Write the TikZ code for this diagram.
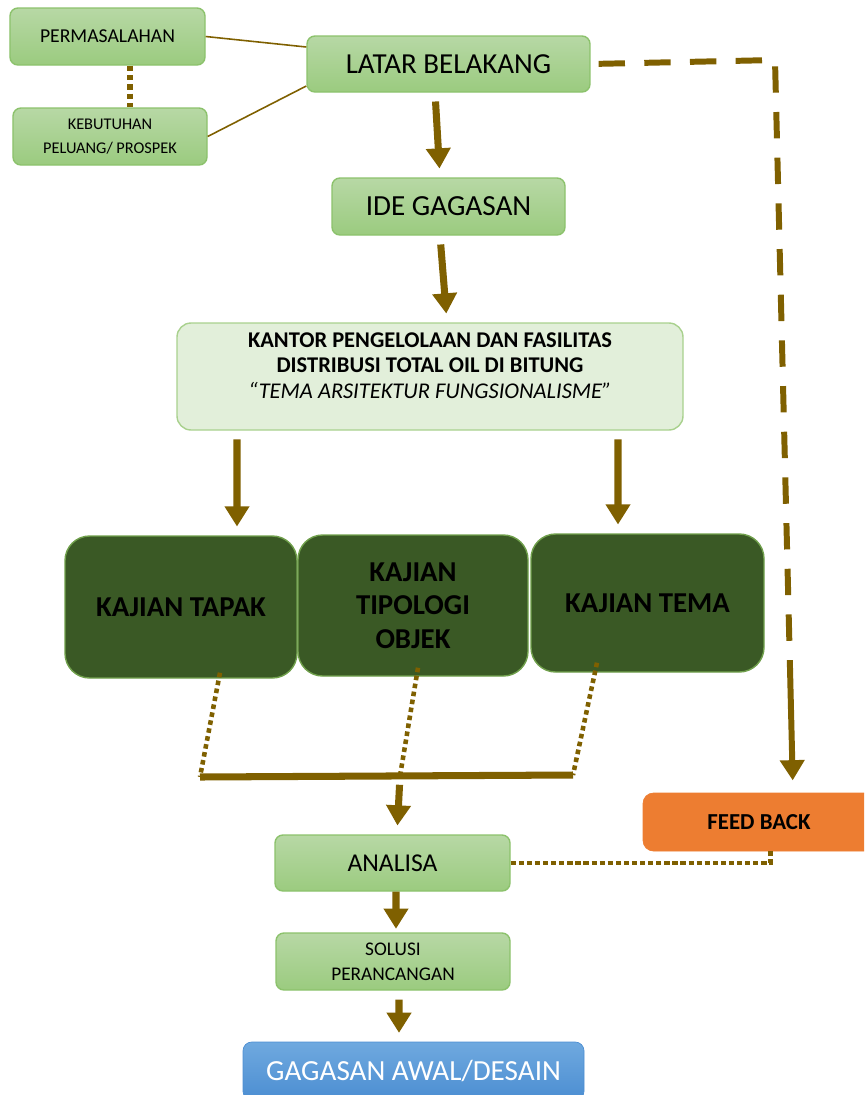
\documentclass[tikz,border=0pt]{standalone}
\usepackage{fontspec}
\setmainfont{Carlito}
\usetikzlibrary{arrows.meta}

\definecolor{brownline}{HTML}{7F6000}
\definecolor{boxtop}{HTML}{B7D8A5}
\definecolor{boxbot}{HTML}{9BCB7F}
\definecolor{boxedge}{HTML}{8CC26C}
\definecolor{kantorfill}{HTML}{E2EFDA}
\definecolor{kantoredge}{HTML}{A9D18E}
\definecolor{kajianfill}{HTML}{3A5925}
\definecolor{kajianedge}{HTML}{70A04C}
\definecolor{feedfill}{HTML}{ED7D31}
\definecolor{blueTop}{HTML}{6FA9DF}
\definecolor{blueBot}{HTML}{4C8ED2}

\tikzset{
  lightbox/.style={draw=boxedge, top color=boxtop, bottom color=boxbot, rounded corners=4.5pt, line width=0.8pt, minimum height=1.14cm},
  kantorbox/.style={draw=kantoredge, fill=kantorfill, rounded corners=8pt, line width=0.8pt},
  kajianbox/.style={draw=kajianedge, fill=kajianfill, rounded corners=14pt, line width=0.8pt, align=center, font=\fontsize{16.4}{19}\selectfont\bfseries},
  feedbox/.style={fill=feedfill, draw=feedfill, rounded corners=6pt, font=\fontsize{13}{15}\selectfont\bfseries},
  endbox/.style={draw=blueBot, top color=blueTop, bottom color=blueBot, rounded corners=5pt, text=white, font=\fontsize{16.6}{19}\selectfont},
  bigarrow/.style={draw=brownline, line width=4pt, -{Triangle[width=13.5pt,length=11.5pt]}, shorten <=5pt, shorten >=5pt},
  dashline/.style={draw=brownline, line width=3.4pt, dash pattern=on 15pt off 11pt},
  dotline/.style={draw=brownline, line width=2.6pt, dash pattern=on 2.6pt off 2pt},
  barline/.style={draw=brownline, line width=4pt},
  thinline/.style={draw=brownline, line width=0.9pt}
}

\begin{document}
\begin{tikzpicture}
\useasboundingbox (0,0) rectangle (17.28,-21.9);
\clip (0,0) rectangle (17.28,-21.9);

\node[lightbox, minimum width=3.9cm, font=\fontsize{11.2}{13}\selectfont] (perm) at (2.15,-0.73) {PERMASALAHAN};
\node[lightbox, minimum width=3.88cm, align=center, font=\fontsize{9.3}{13.6}\selectfont] (kebut) at (2.2,-2.73) {KEBUTUHAN\\PELUANG/ PROSPEK};
\node[lightbox, minimum width=5.66cm, minimum height=1.12cm, font=\fontsize{16.5}{19}\selectfont] (latar) at (8.97,-1.28) {LATAR BELAKANG};
\node[lightbox, minimum width=4.66cm, font=\fontsize{16.6}{19}\selectfont] (ide) at (8.97,-4.13) {IDE GAGASAN};

\node[kantorbox, minimum width=10.12cm, minimum height=2.14cm, inner sep=0pt] (kantor) at (8.6,-7.53)
  {\parbox[c][1.75cm][t]{9.9cm}{\centering\fontsize{12.8}{14.5}\selectfont
   \textbf{KANTOR PENGELOLAAN DAN FASILITAS}\\
   \textbf{DISTRIBUSI TOTAL OIL DI BITUNG}\\
   \textit{“TEMA ARSITEKTUR FUNGSIONALISME”}}};

\node[kajianbox, minimum width=4.64cm, minimum height=2.84cm] (tapak) at (3.62,-12.14) {KAJIAN TAPAK};
\node[kajianbox, minimum width=4.6cm, minimum height=2.82cm] (tipologi) at (8.26,-12.11) {KAJIAN\\TIPOLOGI\\OBJEK};
\node[kajianbox, minimum width=4.66cm, minimum height=2.76cm] (tema) at (12.95,-12.06) {KAJIAN TEMA};

\node[feedbox, minimum width=4.64cm, minimum height=1.16cm] (feed) at (15.18,-16.44) {FEED BACK};
\node[lightbox, minimum width=4.7cm, minimum height=1.12cm, font=\fontsize{14.6}{17}\selectfont] (analisa) at (7.85,-17.26) {ANALISA};
\node[lightbox, minimum width=4.68cm, align=center, font=\fontsize{11}{14}\selectfont] (solusi) at (7.86,-19.23) {SOLUSI\\PERANCANGAN};
\node[endbox, minimum width=6.82cm, minimum height=1.16cm] (gagasan) at (8.27,-21.42) {GAGASAN AWAL/DESAIN};

\coordinate (fbcorner) at (15.5,-1.2);
\coordinate (fbmid) at (15.8,-13.36);
\coordinate (barL) at (4.0,-15.54);
\coordinate (barM) at (8.0,-15.52);
\coordinate (barR) at (11.46,-15.5);

\draw[thinline] (perm.east) -- ([yshift=0.34cm]latar.west);
\draw[thinline] (kebut.east) -- ([yshift=-0.44cm]latar.west);
\draw[dotline, line width=3.1pt, dash pattern=on 3.1pt off 2.2pt] ([xshift=0.45cm]perm.south) -- ([xshift=0.4cm]kebut.north);

\draw[bigarrow] ([xshift=-0.27cm]latar.south) -- ([xshift=-0.17cm]ide.north);
\draw[bigarrow] ([xshift=-0.17cm]ide.south) -- ([xshift=0.34cm]kantor.north);
\draw[bigarrow] ([xshift=-3.86cm]kantor.south) -- ([xshift=1.12cm]tapak.north);
\draw[bigarrow] ([xshift=3.76cm]kantor.south) -- ([xshift=-0.59cm]tema.north);

\draw[dashline, shorten <=4.5pt] (latar.east) -- (fbcorner) -- (fbmid);
\draw[bigarrow, line width=3.4pt, shorten <=0pt, shorten >=7pt] (fbmid) -- ([xshift=0.68cm]feed.north);

\draw[dotline] ([xshift=0.78cm,yshift=0.12cm]tapak.south) -- (barL);
\draw[dotline] ([xshift=0.1cm,yshift=0.18cm]tipologi.south) -- (barM);
\draw[dotline] ([xshift=-1.01cm,yshift=0.2cm]tema.south) -- (barR);
\draw[barline] (barL) -- (barR);

\draw[bigarrow] (barM) -- ([xshift=0.09cm]analisa.north);
\draw[bigarrow, shorten <=0pt, shorten >=2pt] ([xshift=0.07cm]analisa.south) -- ([xshift=0.06cm]solusi.north);
\draw[bigarrow] ([xshift=0.12cm]solusi.south) -- ([xshift=-0.29cm]gagasan.north);

\draw[dotline, dash pattern=on 3pt off 1.6pt] (analisa.east) -| ([xshift=0.23cm]feed.south);

\end{tikzpicture}
\end{document}
